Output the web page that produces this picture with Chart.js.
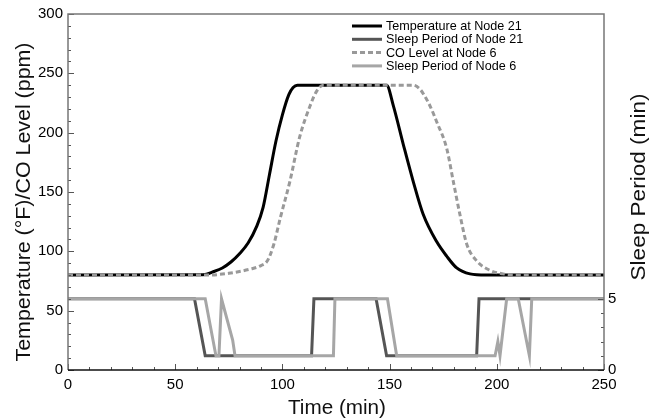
<!DOCTYPE html>
<html>
<head>
<meta charset="utf-8">
<script src="https://cdn.jsdelivr.net/npm/chart.js@4.4.1/dist/chart.umd.min.js"></script>
<style>
  html, body { margin: 0; padding: 0; background: #fff; }
  #wrap { width: 653px; height: 419px; }
</style>
</head>
<body>
<div id="wrap"><canvas id="sensorChart"></canvas></div>
<script>
// Temperature at Node 21 (°F)
const tempTime  = [0, 63, 68, 72, 76, 80, 84, 88, 91, 94, 97, 100, 103, 105, 107, 148.6, 151.7, 156.4, 161, 165.7, 172, 176.6, 181.3, 187.5, 195, 250];
const tempValue = [80, 80.3, 83, 86, 91, 98, 107, 121, 137, 165, 193, 215, 232, 238, 240, 240, 223, 190, 159, 131, 108, 96, 86, 81, 80, 80];

// CO level at Node 6 (ppm)
const coTime  = [0, 65, 75, 85, 90, 93, 96, 99, 103.5, 108, 113, 116, 119, 161, 164, 166, 169, 172, 176.6, 179.7, 182.8, 186, 190.6, 196.8, 203, 210, 250];
const coValue = [80, 80, 81.5, 85, 88, 92, 106, 128, 159, 196, 223, 235, 240, 240, 237, 232, 222, 209, 187, 159, 131, 106, 92, 84, 81, 80, 80];

// Sleep period (min)
const sleep21Time  = [0, 59, 64, 113.6, 114.7, 143.7, 148.6, 190.6, 191.7, 250];
const sleep21Value = [5, 5, 1, 1, 5, 5, 1, 1, 5, 5];
const sleep6Time  = [0, 64, 69, 70.4, 71.6, 76.8, 77.9, 123.8, 124.5, 149, 153.3, 199.2, 200.5, 201.5, 204.6, 210, 215.2, 216.3, 250];
const sleep6Value = [5, 5, 1, 1, 5, 2.1, 1, 1, 5, 5, 1, 1, 2, 1, 5, 5, 1, 5, 5];

const xTicks = [0, 50, 100, 150, 200, 250];
const leftTicks = [0, 50, 100, 150, 200, 250, 300];
const rightTicks = [0, 5];

function toPoints(xs, ys) {
    return xs.map((x, i) => ({ x: x, y: ys[i] }));
}

const FONT = 'Liberation Sans, Arial, Helvetica, sans-serif';

// draws text with its baseline centred at (cx, cy), stretched along the line to a given length
function drawTitle(ctx, text, cx, cy, angle, length) {
    ctx.save();
    ctx.font = '20px ' + FONT;
    ctx.textAlign = 'center';
    ctx.textBaseline = 'alphabetic';
    const w = ctx.measureText(text).width;
    ctx.translate(cx, cy);
    ctx.rotate(angle);
    ctx.scale(length / w, 1);
    ctx.fillText(text, 0, 0);
    ctx.restore();
}

// ticks pointing into the plot, frame, axis titles and the legend
const framePlugin = {
    id: 'framePlugin',
    afterDraw(chart) {
        const ctx = chart.ctx;
        const a = chart.chartArea;
        const x = chart.scales.x, y = chart.scales.y, y1 = chart.scales.y1;
        ctx.save();
        ctx.lineWidth = 1;
        ctx.strokeStyle = '#555';
        for (let v = 0; v <= 250; v += 10) {
            const px = Math.round(x.getPixelForValue(v)) + 0.5;
            const len = v % 50 === 0 ? 6 : 3;
            ctx.beginPath(); ctx.moveTo(px, a.bottom); ctx.lineTo(px, a.bottom - len); ctx.stroke();
        }
        for (let v = 0; v <= 300; v += 10) {
            const py = Math.round(y.getPixelForValue(v)) + 0.5;
            const len = v % 50 === 0 ? 6 : 3;
            ctx.beginPath(); ctx.moveTo(a.left, py); ctx.lineTo(a.left + len, py); ctx.stroke();
        }
        for (let v = 0; v <= 5; v += 1) {
            const py = Math.round(y1.getPixelForValue(v)) + 0.5;
            const len = v % 5 === 0 ? 6 : 3;
            ctx.beginPath(); ctx.moveTo(a.right, py); ctx.lineTo(a.right - len, py); ctx.stroke();
        }
        // frame
        ctx.lineWidth = 1.5;
        ctx.strokeStyle = '#777';
        ctx.beginPath();
        ctx.moveTo(a.left, a.bottom); ctx.lineTo(a.left, a.top);
        ctx.lineTo(a.right, a.top); ctx.lineTo(a.right, a.bottom);
        ctx.stroke();
        ctx.strokeStyle = '#111';
        ctx.beginPath(); ctx.moveTo(a.left, a.bottom); ctx.lineTo(a.right, a.bottom); ctx.stroke();

        // axis titles
        ctx.fillStyle = '#111';
        drawTitle(ctx, 'Time (min)', (a.left + a.right) / 2 + 1, 414, 0, 98);
        drawTitle(ctx, 'Temperature (°F)/CO Level (ppm)', 30, 202, -Math.PI / 2, 319);
        drawTitle(ctx, 'Sleep Period (min)', 645, 187, -Math.PI / 2, 187);

        // legend, top right
        const lx = 352, ly = 26, row = 13.3;
        ctx.fillStyle = '#000';
        ctx.font = '12.6px ' + FONT;
        ctx.textAlign = 'left';
        ctx.textBaseline = 'middle';
        chart.data.datasets.forEach((ds, i) => {
            const yy = ly + i * row;
            ctx.lineWidth = 3;
            ctx.strokeStyle = ds.borderColor;
            ctx.setLineDash(ds.borderDash || []);
            ctx.beginPath(); ctx.moveTo(lx, yy); ctx.lineTo(lx + 30, yy); ctx.stroke();
            ctx.setLineDash([]);
            ctx.fillText(ds.label, lx + 34, yy + 0.5);
        });
        ctx.restore();
    }
};

const ctx = document.getElementById('sensorChart').getContext('2d');
const sensorChart = new Chart(ctx, {
    type: 'line',
    data: {
        datasets: [
            {
                label: 'Temperature at Node 21',
                data: toPoints(tempTime, tempValue),
                borderColor: '#000',
                borderWidth: 3,
                cubicInterpolationMode: 'monotone',
                pointRadius: 0,
                yAxisID: 'y',
                order: 2
            },
            {
                label: 'Sleep Period of Node 21',
                data: toPoints(sleep21Time, sleep21Value),
                borderColor: '#555',
                borderWidth: 3,
                tension: 0,
                pointRadius: 0,
                yAxisID: 'y1',
                order: 4
            },
            {
                label: 'CO Level at Node 6',
                data: toPoints(coTime, coValue),
                borderColor: '#999',
                borderWidth: 3,
                borderDash: [5, 3],
                cubicInterpolationMode: 'monotone',
                pointRadius: 0,
                yAxisID: 'y',
                order: 1
            },
            {
                label: 'Sleep Period of Node 6',
                data: toPoints(sleep6Time, sleep6Value),
                borderColor: '#a6a6a6',
                borderWidth: 3,
                tension: 0,
                pointRadius: 0,
                yAxisID: 'y1',
                order: 3
            }
        ]
    },
    options: {
        responsive: true,
        maintainAspectRatio: false,
        animation: false,
        layout: { padding: { top: 12, right: 0, left: 0, bottom: 0 } },
        plugins: {
            legend: { display: false },
            tooltip: { enabled: false }
        },
        scales: {
            x: {
                type: 'linear',
                min: 0,
                max: 250,
                afterBuildTicks: s => { s.ticks = xTicks.map(v => ({ value: v })); },
                afterFit: s => { s.height = 49; },
                grid: { display: false, drawTicks: false },
                border: { display: false },
                ticks: { color: '#000', font: { family: FONT, size: 15 }, padding: 6, maxRotation: 0 }
            },
            y: {
                position: 'left',
                min: 0,
                max: 300,
                afterBuildTicks: s => { s.ticks = leftTicks.map(v => ({ value: v })); },
                afterFit: s => { s.width = 68; },
                grid: { display: false, drawTicks: false },
                border: { display: false },
                ticks: { color: '#000', font: { family: FONT, size: 15 }, padding: 5 }
            },
            y1: {
                position: 'right',
                min: 0,
                max: 25,
                afterBuildTicks: s => { s.ticks = rightTicks.map(v => ({ value: v })); },
                afterFit: s => { s.width = 49; },
                grid: { display: false, drawTicks: false },
                border: { display: false },
                ticks: { color: '#000', font: { family: FONT, size: 15 }, padding: 4 }
            }
        }
    },
    plugins: [framePlugin]
});
</script>
</body>
</html>
